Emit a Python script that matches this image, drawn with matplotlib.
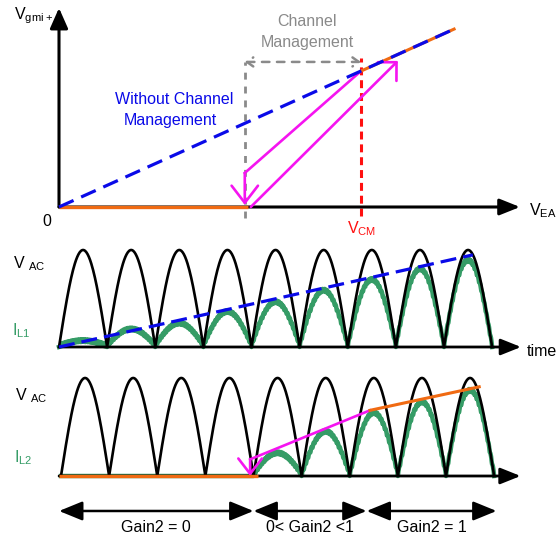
"""
Channel management sketch: V_gmi+ vs V_EA and the inductor currents
"""
import numpy as np
import matplotlib
matplotlib.use('Agg')
import matplotlib.pyplot as plt

plt.rcParams['font.family'] = ['Liberation Sans', 'DejaVu Sans']
plt.rcParams['mathtext.default'] = 'regular'

# ---- panel 1: transfer curve (V_EA, V_gmi+ in % of axis) ----
vea_cm_start = 40.3
vea_cm = 65.5
no_cm_x = [0, 85.7]
no_cm_y = [0, 89.4]
flat_x = [0, 41.0]
with_cm_x = [65.5, 85.7]
with_cm_y = [68.3, 89.4]
hyst_down_x = [65.5, 40.3, 40.3]
hyst_down_y = [68.3, 17.1, 1.0]
hyst_up_x = [41.6, 73.5]
hyst_up_y = [0, 73.4]
cm_arrow_y = 72.9

# ---- panel 2 / 3: rectified line half-cycles ----
vac_peak = [1, 1, 1, 1, 1, 1, 1, 1, 1]
il1_peak = [0.05, 0.17, 0.23, 0.35, 0.45, 0.57, 0.68, 0.79, 0.88]
il1_env_x = [0, 8.6]
il1_env_y = [0, 0.95]
il2_peak = [0, 0, 0, 0, 0.22, 0.44, 0.63, 0.74, 0.86]
il2_off_x = [-0.04, 4.1]
il2_ramp_x = [3.93, 6.42]
il2_ramp_y = [0.17, 0.67]
il2_full_x = [6.42, 8.69]
il2_full_y = [0.67, 0.91]
gain_edges = [-0.04, 4.0, 6.35, 9.05]
gain_labels = ['Gain2 = 0', '0< Gain2 <1', 'Gain2 = 1']

BLUE = '#0a0ae8'
MAG = '#f514f0'
ORANGE = '#f06a12'
GREEN = '#359c66'
GRAY = '#8a8a8a'
RED = '#ff1010'
FS = 11.5

W, H = 560, 535
fig = plt.figure(figsize=(W / 100, H / 100), dpi=100)


def box(x0, y0, w, h):
    # pixel box (top-left origin) -> figure axes
    return fig.add_axes([x0 / W, 1 - (y0 + h) / H, w / W, h / H])


def arrow(ax, x0, y0, x1, y1, style, color='black', lw=1.8, ms=13, ls='-'):
    ax.annotate('', xy=(x1, y1), xytext=(x0, y0),
                arrowprops=dict(arrowstyle=style, color=color, lw=lw,
                                mutation_scale=ms, shrinkA=0, shrinkB=0,
                                linestyle=ls),
                annotation_clip=False)


def humps(peaks, npts=80, ripple=0.0):
    xs, ys = [], []
    for i, a in enumerate(peaks):
        t = np.linspace(0, 1, npts)
        y = a * np.sin(np.pi * t)
        if ripple and a > 0:
            # switching ripple texture on the inductor current
            y = y + ripple * np.abs(np.sin(np.pi * 22 * t)) * (y > 0.01)
        xs.append(i + t)
        ys.append(y)
    return np.concatenate(xs), np.concatenate(ys)


# ================= panel 1 =================
ax1 = box(59, 8, 461, 199)
ax1.set_xlim(0, 100)
ax1.set_ylim(0, 100)
ax1.axis('off')

arrow(ax1, 0, 0, 100, 0, '-|>,head_length=0.95,head_width=0.38', lw=2.2)
arrow(ax1, 0, 0, 0, 100, '-|>,head_length=0.95,head_width=0.42', lw=2.2)
ax1.plot(flat_x, [0, 0], color=ORANGE, lw=2.4, solid_capstyle='butt',
         clip_on=False, zorder=4)
ax1.plot(with_cm_x, with_cm_y, color=ORANGE, lw=2.2, clip_on=False, zorder=3)
ax1.plot(no_cm_x, no_cm_y, color=BLUE, lw=2.3, dashes=(5, 2.6),
         clip_on=False, zorder=4)

ax1.plot([vea_cm_start, vea_cm_start], [-5.5, cm_arrow_y], color=GRAY, lw=2,
         dashes=(2.5, 2.5), clip_on=False)
ax1.plot([vea_cm, vea_cm], [-4.5, 75], color=RED, lw=2.2, dashes=(2.6, 1.6),
         clip_on=False)
arrow(ax1, vea_cm_start, cm_arrow_y, vea_cm, cm_arrow_y,
      '<->,head_length=0.35,head_width=0.25', color=GRAY, lw=1.8, ms=13,
      ls=(0, (3, 3)))

ax1.plot(hyst_down_x[:2], hyst_down_y[:2], color=MAG, lw=1.9, clip_on=False)
arrow(ax1, hyst_down_x[1], hyst_down_y[1], hyst_down_x[2], hyst_down_y[2],
      '->,head_length=0.65,head_width=0.5', color=MAG, lw=1.9, ms=19)
arrow(ax1, hyst_up_x[0], hyst_up_y[0], hyst_up_x[1], hyst_up_y[1],
      '->,head_length=0.5,head_width=0.5', color=MAG, lw=1.9, ms=19)

# ================= panel 2 =================
ax2 = box(59, 250, 462, 97)
ax2.set_xlim(0, 9.6)
ax2.set_ylim(0, 1)
ax2.axis('off')

arrow(ax2, 0, 0, 9.6, 0, '-|>,head_length=0.95,head_width=0.38', lw=2.0)
x, y = humps(vac_peak)
ax2.plot(x, y, color='black', lw=1.9, clip_on=False, zorder=3)
x, y = humps(il1_peak, npts=300, ripple=0.03)
ax2.plot(x, y, color=GREEN, lw=3.2, clip_on=False, zorder=2)
ax2.plot(il1_env_x, il1_env_y, color=BLUE, lw=2.3, dashes=(5, 2.2),
         clip_on=False, zorder=4)

# ================= panel 3 =================
ax3 = box(61, 378, 462, 98)
ax3.set_xlim(0, 9.6)
ax3.set_ylim(0, 1)
ax3.axis('off')

arrow(ax3, -0.04, 0, 9.55, 0, '-|>,head_length=0.95,head_width=0.38', lw=2.0)
ax3.plot(il2_off_x, [0, 0], color=ORANGE, lw=2.4, solid_capstyle='butt',
         clip_on=False, zorder=5)
x, y = humps(vac_peak)
ax3.plot(x, y, color='black', lw=1.9, clip_on=False, zorder=3)
x, y = humps(il2_peak, npts=300, ripple=0.03)
ax3.plot(x, y, color=GREEN, lw=3.2, clip_on=False, zorder=2)
ax3.plot(il2_ramp_x, il2_ramp_y, color=MAG, lw=1.9, clip_on=False, zorder=4)
ax3.plot(il2_full_x, il2_full_y, color=ORANGE, lw=2.2, clip_on=False, zorder=4)
arrow(ax3, il2_ramp_x[0], il2_ramp_y[0], il2_ramp_x[0], 0.0,
      '->,head_length=0.65,head_width=0.5', color=MAG, lw=1.9, ms=17)

# gain regions
gy = -0.357
for i in range(3):
    arrow(ax3, gain_edges[i], gy, gain_edges[i + 1], gy,
          '<|-|>,head_length=1.1,head_width=0.45', lw=1.8, ms=13)
    ax3.text((gain_edges[i] + gain_edges[i + 1]) / 2, gy - 0.17, gain_labels[i],
             ha='center', va='center', fontsize=FS, clip_on=False)

# ================= labels =================
def ftext(x, y, s, **kw):
    fig.text(x / W, 1 - y / H, s, fontsize=FS, va='center', **kw)

ftext(14, 16, 'V$_{gmi+}$')
ftext(42, 222, '0')
ftext(529, 211, 'V$_{EA}$')
ftext(362, 229, 'V$_{CM}$', ha='center', color=RED)
ftext(307, 22, 'Channel', ha='center', color=GRAY)
ftext(307, 43, 'Management', ha='center', color=GRAY)
ftext(174, 100, 'Without Channel', ha='center', color=BLUE)
ftext(170, 120, 'Management', ha='center', color=BLUE)

ftext(13, 264, 'V $_{AC}$')
ftext(12, 331, 'I$_{L1}$', color=GREEN)
ftext(527, 351, 'time')
ftext(15, 396, 'V $_{AC}$')
ftext(14, 458, 'I$_{L2}$', color=GREEN)

fig.savefig('out.png', dpi=100)
